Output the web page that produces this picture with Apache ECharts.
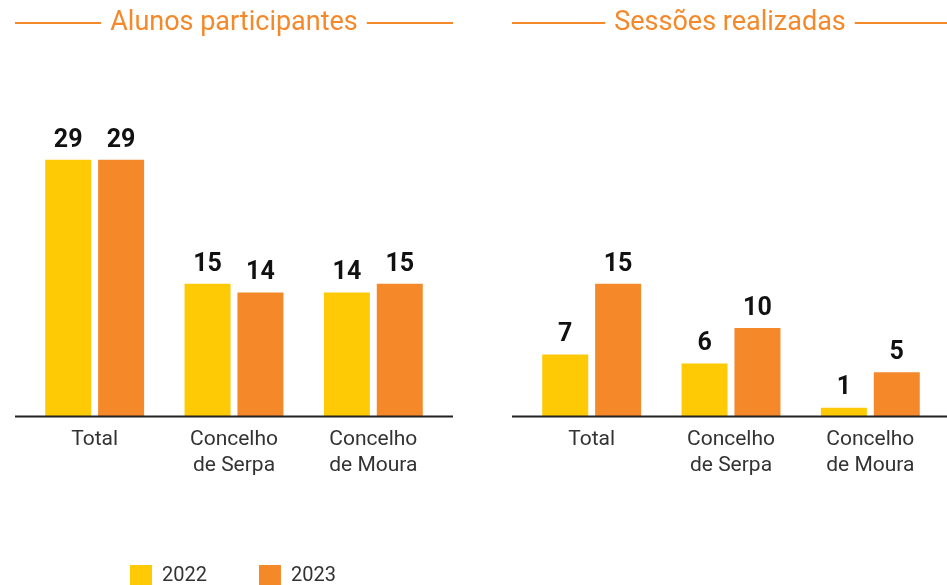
<!DOCTYPE html>
<html>
<head>
<meta charset="utf-8">
<script src="https://cdn.jsdelivr.net/npm/echarts@6/dist/echarts.min.js"></script>
<style>
  html, body { margin: 0; padding: 0; background: #fff; }
  .box { width: 947px; height: 585px; }
</style>
</head>
<body>
<div class="box"></div>
<script>
// 数据
var categories = ['Total', 'Concelho\nde Serpa', 'Concelho\nde Moura'];
var years = ['2022', '2023'];
var alunos2022 = [29, 15, 14];
var alunos2023 = [29, 14, 15];
var sessoes2022 = [7, 6, 1];
var sessoes2023 = [15, 10, 5];
var titles = ['Alunos participantes', 'Sessões realizadas'];

(function () {
    var myChart = echarts.init(document.querySelector('.box'));

    var yellow = '#FECA05';
    var orange = '#F5892A';
    var font = 'Roboto, "Noto Sans", sans-serif';

    // 共用的柱子样式
    function bar(name, data, idx) {
        return {
            name: name,
            type: 'bar',
            xAxisIndex: idx,
            yAxisIndex: idx,
            barWidth: 46,
            barGap: '15%',
            data: data,
            label: {
                show: true,
                position: 'top',
                distance: 7,
                color: '#111',
                fontSize: 25,
                fontWeight: 'bold',
                fontFamily: font
            }
        };
    }

    function xAxis(idx) {
        return {
            type: 'category',
            gridIndex: idx,
            data: categories,
            axisLine: { show: false },
            axisTick: { show: false },
            axisLabel: {
                color: '#333',
                fontSize: 21,
                lineHeight: 26,
                margin: 10,
                fontFamily: font
            }
        };
    }

    function yAxis(idx) {
        return {
            type: 'value',
            gridIndex: idx,
            min: 0,
            max: 30,
            show: false,
            splitLine: { show: false }
        };
    }

    // 标题两侧的横线 + 底部轴线
    var graphic = [
        { type: 'line', z: 1, shape: { x1: 15, y1: 23, x2: 453, y2: 23 }, style: { stroke: orange, lineWidth: 2 } },
        { type: 'line', z: 1, shape: { x1: 512, y1: 23, x2: 947, y2: 23 }, style: { stroke: orange, lineWidth: 2 } },
        { type: 'text', z: 5, x: 234, y: 23, style: { text: titles[0], align: 'center', verticalAlign: 'middle', fill: orange, font: '27px ' + font, backgroundColor: '#fff', padding: [0, 9] } },
        { type: 'text', z: 5, x: 730, y: 23, style: { text: titles[1], align: 'center', verticalAlign: 'middle', fill: orange, font: '27px ' + font, backgroundColor: '#fff', padding: [0, 9] } },
        { type: 'line', z: 100, shape: { x1: 15, y1: 416.5, x2: 453, y2: 416.5 }, style: { stroke: '#222', lineWidth: 2 } },
        { type: 'line', z: 100, shape: { x1: 512, y1: 416.5, x2: 947, y2: 416.5 }, style: { stroke: '#222', lineWidth: 2 } }
    ];

    var option = {
        animation: false,
        color: [yellow, orange],
        textStyle: { fontFamily: font },
        legend: {
            data: years,
            left: 125,
            top: 560,
            icon: 'rect',
            itemWidth: 22,
            itemHeight: 22,
            itemGap: 52,
            textStyle: { color: '#333', fontSize: 20, fontFamily: font, padding: [2, 0, 0, 5] }
        },
        grid: [
            { left: 25, width: 418, top: 151, height: 265.5 },
            { left: 522, width: 418, top: 151, height: 265.5 }
        ],
        xAxis: [xAxis(0), xAxis(1)],
        yAxis: [yAxis(0), yAxis(1)],
        graphic: graphic,
        series: [
            bar(years[0], alunos2022, 0),
            bar(years[1], alunos2023, 0),
            bar(years[0], sessoes2022, 1),
            bar(years[1], sessoes2023, 1)
        ]
    };

    myChart.setOption(option);

    window.addEventListener('resize', function () {
        myChart.resize();
    });
})();
</script>
</body>
</html>
